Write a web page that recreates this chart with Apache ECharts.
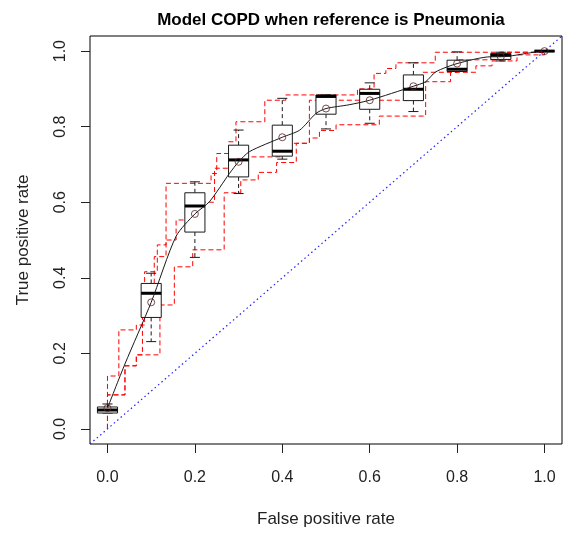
<!DOCTYPE html>
<html>
<head>
<meta charset="utf-8">
<script src="https://cdn.jsdelivr.net/npm/echarts@6/dist/echarts.min.js"></script>
<style>
  html, body { margin: 0; padding: 0; background: #fff; }
  #chart { width: 563px; height: 537px; }
</style>
</head>
<body>
<div id="chart"></div>
<script>
// Axis ticks and limits
const tickValues = [0, 0.2, 0.4, 0.6, 0.8, 1.0];
const axisLimits = [-0.04, 1.04];

// Boxplot summaries of TPR at fixed FPR cut points
const boxFpr    = [0, 0.1, 0.2, 0.3, 0.4, 0.5, 0.6, 0.7, 0.8, 0.9, 1.0];
const boxLow    = [0.042, 0.231, 0.454, 0.623, 0.714, 0.794, 0.809, 0.840, 0.946, 0.974, 1.0];
const boxQ1     = [0.042, 0.295, 0.521, 0.667, 0.722, 0.833, 0.846, 0.869, 0.946, 0.978, 1.0];
const boxMedian = [0.050, 0.359, 0.590, 0.712, 0.735, 0.880, 0.888, 0.899, 0.952, 0.989, 1.0];
const boxQ3     = [0.058, 0.385, 0.625, 0.751, 0.804, 0.884, 0.899, 0.937, 0.976, 0.994, 1.0];
const boxHigh   = [0.066, 0.412, 0.654, 0.791, 0.875, 0.884, 0.916, 0.969, 0.998, 0.997, 1.0];
const boxMean   = [0.055, 0.335, 0.569, 0.707, 0.772, 0.848, 0.870, 0.907, 0.967, 0.985, 1.0];

// Vertically averaged ROC curve
const meanCurve = [
  [0, 0.055], [0.04, 0.172], [0.1, 0.335], [0.157, 0.51], [0.2, 0.569],
  [0.233, 0.601], [0.279, 0.676], [0.3, 0.707], [0.325, 0.734], [0.4, 0.772],
  [0.44, 0.791], [0.477, 0.835], [0.5, 0.848], [0.553, 0.858], [0.6, 0.870],
  [0.7, 0.907], [0.728, 0.919], [0.751, 0.945], [0.8, 0.967], [0.877, 0.985],
  [0.9, 0.985], [0.976, 0.997], [1, 1]
];

// Individual ROC curves (corner points, stepped right then up)
const runUpper = [
  [0, 0], [0, 0.14], [0.026, 0.262], [0.066, 0.275], [0.085, 0.416], [0.114, 0.487],
  [0.134, 0.65], [0.237, 0.676], [0.25, 0.729], [0.277, 0.76], [0.294, 0.813],
  [0.36, 0.87], [0.408, 0.884], [0.572, 0.90], [0.61, 0.941], [0.637, 0.954],
  [0.66, 0.969], [0.75, 0.997], [1, 1]
];
const runLower = [
  [0, 0], [0, 0.09], [0.04, 0.167], [0.066, 0.196], [0.12, 0.328], [0.153, 0.429],
  [0.195, 0.474], [0.267, 0.625], [0.305, 0.659], [0.345, 0.679], [0.387, 0.705],
  [0.432, 0.756], [0.462, 0.77], [0.485, 0.79], [0.523, 0.805], [0.622, 0.828],
  [0.728, 0.919], [0.785, 0.944], [0.843, 0.961], [0.88, 0.974], [0.937, 0.99], [1, 1]
];
const runMiddle = [
  [0, 0], [0, 0.09], [0.04, 0.167], [0.066, 0.196], [0.08, 0.31], [0.107, 0.456],
  [0.134, 0.5], [0.157, 0.553], [0.215, 0.6], [0.245, 0.69], [0.3, 0.72],
  [0.4, 0.756], [0.462, 0.87], [0.69, 0.9], [0.72, 0.944], [0.8, 0.977],
  [0.9, 0.997], [1, 1]
];

const FONT = "'Liberation Sans', Arial, Helvetica, sans-serif";
const BOX_HALF = 0.023;   // half box width in FPR units

const boxData = boxFpr.map((x, i) => [x, boxLow[i], boxQ1[i], boxMedian[i], boxQ3[i], boxHigh[i]]);

function renderBox(params, api) {
  const x = api.value(0);
  const lo = api.coord([x, api.value(1)]);
  const q1 = api.coord([x, api.value(2)]);
  const md = api.coord([x, api.value(3)]);
  const q3 = api.coord([x, api.value(4)]);
  const hi = api.coord([x, api.value(5)]);
  const left = api.coord([x - BOX_HALF, 0])[0];
  const right = api.coord([x + BOX_HALF, 0])[0];
  const cx = lo[0];
  const capHalf = (right - left) / 4;
  const ink = '#1a1a1a';
  return {
    type: 'group',
    children: [
      { type: 'line', shape: { x1: cx, y1: q3[1], x2: cx, y2: hi[1] },
        style: { stroke: ink, lineWidth: 1, lineDash: [4, 3] } },
      { type: 'line', shape: { x1: cx, y1: q1[1], x2: cx, y2: lo[1] },
        style: { stroke: ink, lineWidth: 1, lineDash: [4, 3] } },
      { type: 'line', shape: { x1: cx - capHalf, y1: hi[1], x2: cx + capHalf, y2: hi[1] },
        style: { stroke: ink, lineWidth: 1 } },
      { type: 'line', shape: { x1: cx - capHalf, y1: lo[1], x2: cx + capHalf, y2: lo[1] },
        style: { stroke: ink, lineWidth: 1 } },
      { type: 'rect', shape: { x: left, y: q3[1], width: right - left, height: q1[1] - q3[1] },
        style: { fill: '#fff', stroke: ink, lineWidth: 1 } },
      { type: 'line', shape: { x1: left, y1: md[1], x2: right, y2: md[1] },
        style: { stroke: '#000', lineWidth: 3 } }
    ]
  };
}

const chart = echarts.init(document.getElementById('chart'), null, { renderer: 'canvas' });

const runStyle = { color: '#ff0000', width: 1, type: [5, 3] };

chart.setOption({
  animation: false,
  backgroundColor: '#fff',
  textStyle: { fontFamily: FONT },
  title: {
    text: 'Model COPD when reference is Pneumonia',
    left: 326,
    top: 7,
    textAlign: 'center',
    textStyle: { fontFamily: FONT, fontSize: 17, fontWeight: 'bold', color: '#000' }
  },
  grid: {
    left: 90, top: 36, right: 1, bottom: 93,
    show: true, borderColor: '#000', borderWidth: 1, backgroundColor: 'transparent'
  },
  xAxis: {
    type: 'value',
    min: axisLimits[0], max: axisLimits[1],
    name: 'False positive rate',
    nameLocation: 'middle',
    nameGap: 67,
    nameTextStyle: { fontFamily: FONT, fontSize: 17, color: '#222' },
    axisLine: { show: false, onZero: false },
    splitLine: { show: false },
    axisTick: { show: true, length: 9, customValues: tickValues, lineStyle: { color: '#222' } },
    axisLabel: {
      customValues: tickValues, margin: 26, fontFamily: FONT, fontSize: 16, color: '#222',
      formatter: v => v.toFixed(1)
    }
  },
  yAxis: {
    type: 'value',
    min: axisLimits[0], max: axisLimits[1],
    name: 'True positive rate',
    nameLocation: 'middle',
    nameRotate: 90,
    nameGap: 58,
    nameTextStyle: { fontFamily: FONT, fontSize: 17, color: '#222' },
    axisLine: { show: false, onZero: false },
    splitLine: { show: false },
    axisTick: { show: true, length: 9, customValues: tickValues, lineStyle: { color: '#222' } },
    axisLabel: {
      customValues: tickValues, margin: 21, rotate: 90, align: 'center', verticalAlign: 'bottom',
      fontFamily: FONT, fontSize: 16, color: '#222',
      formatter: v => v.toFixed(1)
    }
  },
  series: [
    {
      type: 'line', name: 'chance',
      data: [[axisLimits[0], axisLimits[0]], [axisLimits[1], axisLimits[1]]],
      symbol: 'none', silent: true, z: 1,
      lineStyle: { color: '#2020ff', width: 1.2, type: [1.5, 3] }
    },
    { type: 'line', name: 'run1', data: runUpper, step: 'end', symbol: 'none', z: 2, lineStyle: runStyle },
    { type: 'line', name: 'run2', data: runLower, step: 'end', symbol: 'none', z: 2, lineStyle: runStyle },
    { type: 'line', name: 'run3', data: runMiddle, step: 'end', symbol: 'none', z: 2, lineStyle: runStyle },
    {
      type: 'custom', name: 'spread',
      data: boxData,
      encode: { x: 0, y: [1, 2, 3, 4, 5] },
      renderItem: renderBox,
      z: 3
    },
    {
      type: 'line', name: 'average',
      data: meanCurve, symbol: 'none', z: 4, smooth: 0.25,
      lineStyle: { color: '#1a1a1a', width: 1 }
    },
    {
      type: 'scatter', name: 'mean',
      data: boxFpr.map((x, i) => [x, boxMean[i]]),
      symbol: 'circle', symbolSize: 7, z: 5,
      itemStyle: { color: 'rgba(0,0,0,0)', borderColor: '#5a2020', borderWidth: 1 }
    }
  ]
});
</script>
</body>
</html>
